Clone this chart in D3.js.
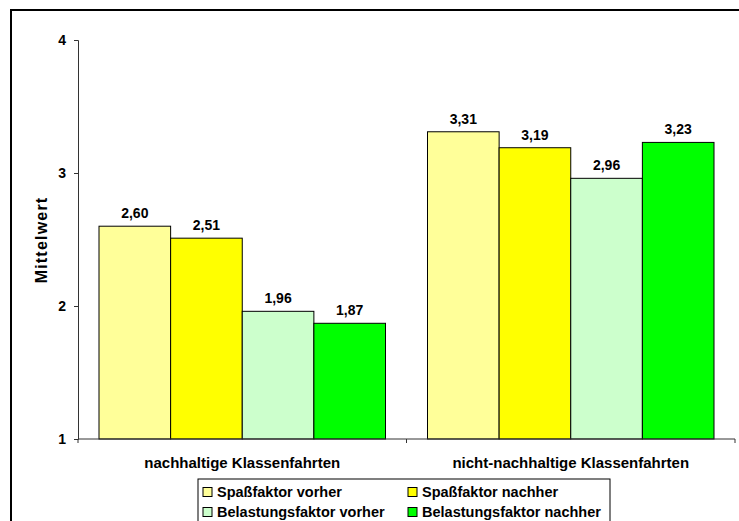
<!DOCTYPE html>
<html>
<head>
<meta charset="utf-8">
<script src="https://cdn.jsdelivr.net/npm/d3@7"></script>
<style>
  body { margin: 0; background: #fff; }
  svg { display: block; font-family: "Liberation Sans", Arial, sans-serif; }
</style>
</head>
<body>
<div id="chart"></div>
<script>
const categories = ["nachhaltige Klassenfahrten", "nicht-nachhaltige Klassenfahrten"];
const seriesNames = ["Spaßfaktor vorher", "Spaßfaktor nachher", "Belastungsfaktor vorher", "Belastungsfaktor nachher"];
const seriesColors = ["#FFFF99", "#FFFF00", "#CCFFCC", "#00FF00"];
const spassVorher = [2.60, 3.31];
const spassNachher = [2.51, 3.19];
const belastungVorher = [1.96, 2.96];
const belastungNachher = [1.87, 3.23];
const yTicks = [1, 2, 3, 4];

const values = [spassVorher, spassNachher, belastungVorher, belastungNachher];

const width = 739, height = 521;
const margin = { top: 40, right: 4, bottom: 82, left: 78 };
const innerW = width - margin.left - margin.right;
const innerH = height - margin.top - margin.bottom;

const svg = d3.select("#chart").append("svg")
  .attr("width", width)
  .attr("height", height);

// outer frame (cut off right and bottom)
svg.append("rect")
  .attr("x", 11).attr("y", 10)
  .attr("width", 760).attr("height", 560)
  .attr("fill", "none")
  .attr("stroke", "#000")
  .attr("stroke-width", 2);

const g = svg.append("g").attr("transform", `translate(${margin.left},${margin.top})`);

const x0 = d3.scaleBand().domain(categories).range([0, innerW]).paddingInner(0).paddingOuter(0);
const x1 = d3.scaleBand().domain(d3.range(seriesNames.length))
  .range([21, x0.bandwidth() - 21]);
const y = d3.scaleLinear().domain([1, 4]).range([innerH, 0]);

// bars
categories.forEach((cat, ci) => {
  const grp = g.append("g").attr("transform", `translate(${x0(cat)},0)`);
  seriesNames.forEach((s, si) => {
    const v = values[si][ci];
    grp.append("rect")
      .attr("x", x1(si))
      .attr("y", y(v))
      .attr("width", x1.bandwidth())
      .attr("height", y(1) - y(v))
      .attr("fill", seriesColors[si])
      .attr("stroke", "#000")
      .attr("stroke-width", 1);
    grp.append("text")
      .attr("x", x1(si) + x1.bandwidth() / 2)
      .attr("y", y(v) - 8)
      .attr("text-anchor", "middle")
      .style("font-size", "14px")
      .style("font-weight", "bold")
      .text(v.toFixed(2).replace(".", ","));
  });
});

// y axis
const yAxis = g.append("g")
  .call(d3.axisLeft(y).tickValues(yTicks).tickSize(4).tickPadding(8).tickFormat(d3.format("d")));
yAxis.select(".domain").attr("stroke", "#333");
yAxis.selectAll(".tick line").attr("stroke", "#333");
yAxis.selectAll(".tick text")
  .style("font-size", "14px")
  .style("font-weight", "bold")
  .style("font-family", "Liberation Sans, Arial, sans-serif")
  .attr("fill", "#000");

// x axis
const xAxisG = g.append("g").attr("transform", `translate(0,${innerH})`);
xAxisG.append("line")
  .attr("x1", 0).attr("x2", innerW)
  .attr("stroke", "#333");
const bounds = [0, ...categories.map(c => x0(c) + x0.bandwidth())];
xAxisG.selectAll(".xt").data(bounds).join("line")
  .attr("class", "xt")
  .attr("x1", d => d).attr("x2", d => d)
  .attr("y1", 0).attr("y2", 4)
  .attr("stroke", "#333");
xAxisG.selectAll(".xl").data(categories).join("text")
  .attr("class", "xl")
  .attr("x", d => x0(d) + x0.bandwidth() / 2)
  .attr("y", 29)
  .attr("text-anchor", "middle")
  .style("font-size", "15px")
  .style("font-weight", "bold")
  .text(d => d);

// y label
svg.append("text")
  .attr("transform", `translate(47,240) rotate(-90)`)
  .attr("text-anchor", "middle")
  .style("font-size", "16px")
  .style("font-weight", "bold")
  .style("letter-spacing", "1.2px")
  .text("Mittelwert");

// legend
const legend = svg.append("g").attr("transform", "translate(198,479)");
legend.append("rect")
  .attr("width", 412).attr("height", 60)
  .attr("fill", "#fff")
  .attr("stroke", "#000")
  .attr("stroke-width", 1);
seriesNames.forEach((s, i) => {
  const col = i % 2, row = Math.floor(i / 2);
  const item = legend.append("g")
    .attr("transform", `translate(${5 + col * 205},${13 + row * 20})`);
  item.append("rect")
    .attr("x", 0).attr("y", -4.5)
    .attr("width", 9).attr("height", 9)
    .attr("fill", seriesColors[i])
    .attr("stroke", "#000");
  item.append("text")
    .attr("x", 14)
    .attr("y", 0)
    .attr("dy", "0.35em")
    .style("font-size", "14.5px")
    .style("font-weight", "bold")
    .text(s);
});
</script>
</body>
</html>
